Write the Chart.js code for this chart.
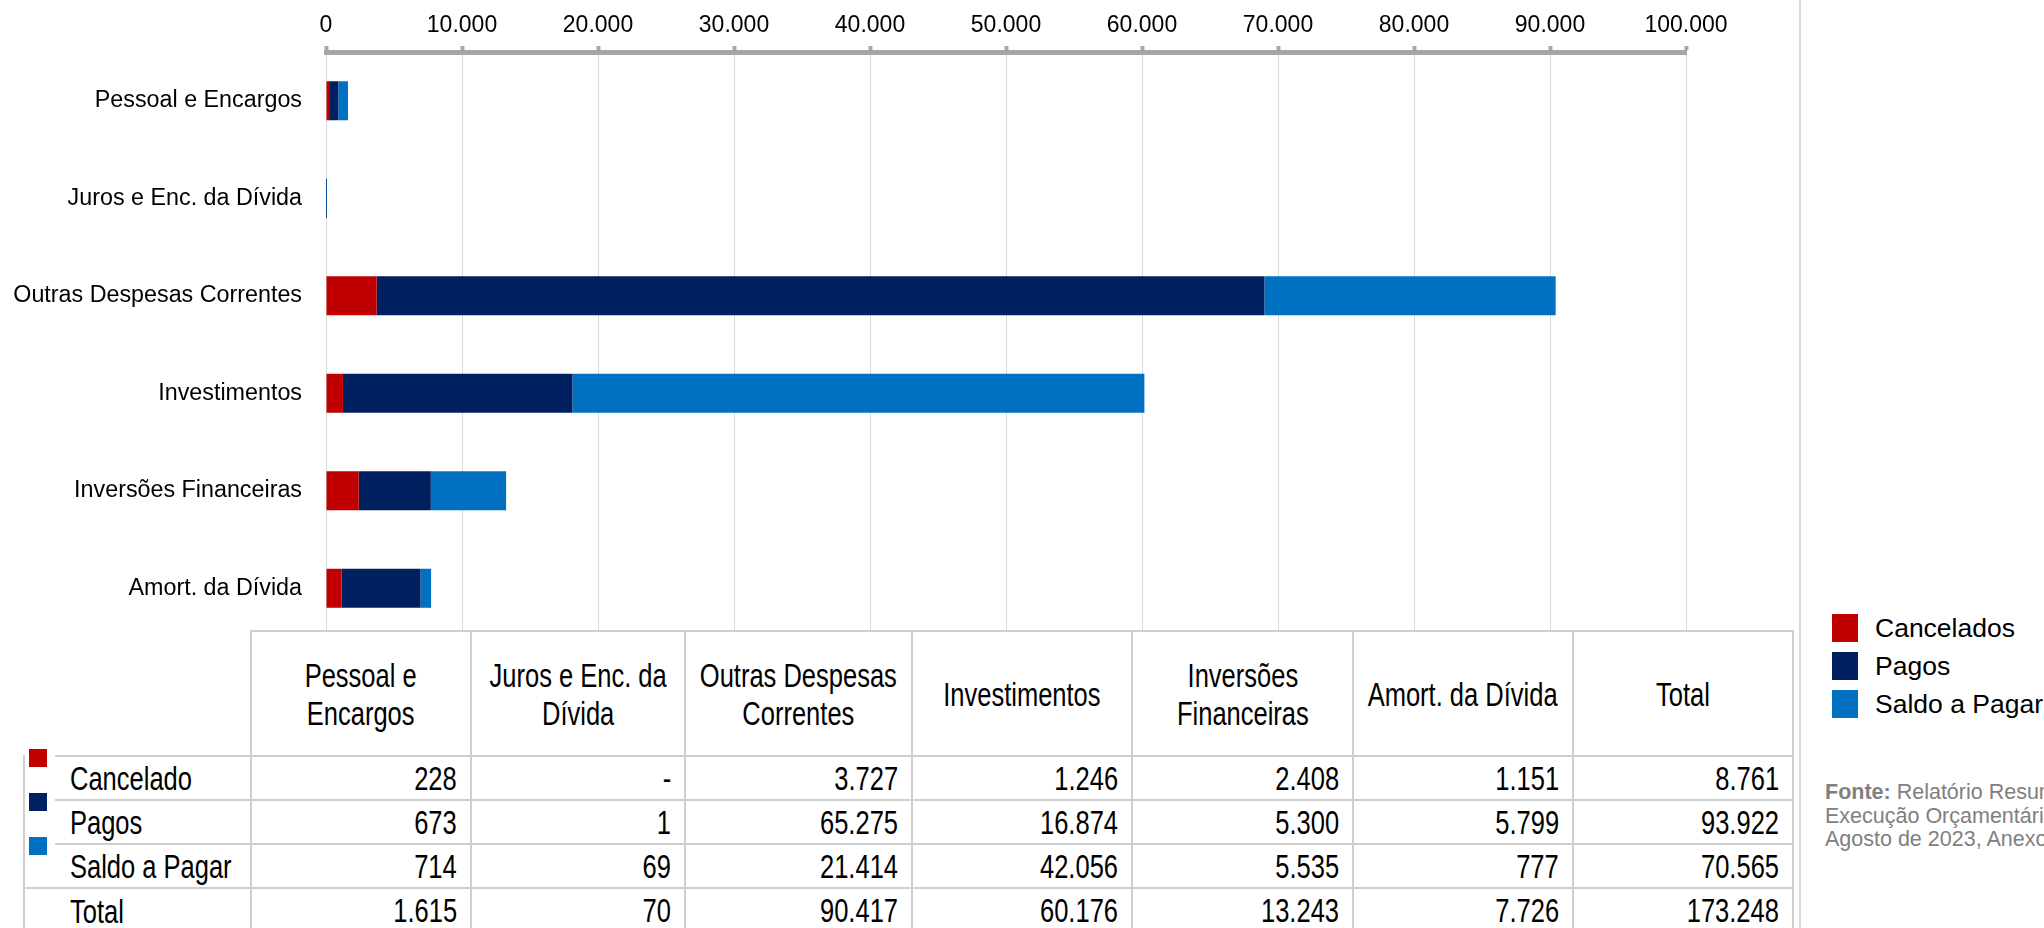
<!DOCTYPE html>
<html>
<head>
<meta charset="utf-8">
<script src="https://cdn.jsdelivr.net/npm/chart.js@4.4.0/dist/chart.umd.min.js"></script>
<style>
  html, body { margin: 0; padding: 0; background: #fff; width: 2044px; height: 928px; overflow: hidden; position: relative; }
  #wrap { position: absolute; left: 0; top: 0; width: 1799px; height: 675px; }
  #sep { position: absolute; left: 1799px; top: 0; width: 2px; height: 928px; background: #d9d9d9; }
  .cell { position: absolute; box-sizing: border-box; font-family: "Liberation Sans", Arial, sans-serif;
          font-size: 34px; color: #000; white-space: pre; display: flex; align-items: center; background: #fff; }
  .cell span { display: inline-block; transform: scaleX(0.75); }
  .hline { position: absolute; height: 2px; background: #cfcfcf; }
  .sq { position: absolute; width: 18px; height: 18px; }
  #legend { position: absolute; left: 1832px; top: 609px; font-family: "Liberation Sans", Arial, sans-serif; font-size: 26.5px; white-space: nowrap; }
  #legend div { position: relative; height: 38px; line-height: 38px; padding-left: 43px; }
  #legend span { position: absolute; left: 0; top: 5px; width: 26px; height: 28px; }
  #fonte { position: absolute; left: 1825px; top: 781px; width: 219px; overflow: hidden; white-space: nowrap;
           font-family: "Liberation Sans", Arial, sans-serif; font-size: 21.5px; line-height: 23.5px; color: #808080; }
</style>
</head>
<body>
<div id="wrap"><canvas id="chart" width="1799" height="675"></canvas></div>
<div id="sep"></div>
<div id="table"></div>
<div id="legend"></div>
<div id="fonte"><div><b>Fonte:</b> Relatório Resumido da</div><div>Execução Orçamentária -</div><div>Agosto de 2023, Anexo 7</div></div>
<script>
// valores em R$ milhões
const categorias = ["Pessoal e Encargos", "Juros e Enc. da Dívida", "Outras Despesas Correntes",
                    "Investimentos", "Inversões Financeiras", "Amort. da Dívida"];
const cabecalhos = ["Pessoal e\nEncargos", "Juros e Enc. da\nDívida", "Outras Despesas\nCorrentes",
                    "Investimentos", "Inversões\nFinanceiras", "Amort. da Dívida", "Total"];
const cancelados = [228, 0, 3727, 1246, 2408, 1151];
const pagos = [673, 1, 65275, 16874, 5300, 5799];
const saldoAPagar = [714, 69, 21414, 42056, 5535, 777];
const totalCategoria = [1615, 70, 90417, 60176, 13243, 7726];
const totalSituacao = [8761, 93922, 70565, 173248];
const linhasTabela = ["Cancelado", "Pagos", "Saldo a Pagar", "Total"];
const legendas = ["Cancelados", "Pagos", "Saldo a Pagar"];
const cores = ["#C00000", "#002060", "#0070C0"];

function fmt(n) {
        if (n === 0) return "-";
        return String(n).replace(/\B(?=(\d{3})+(?!\d))/g, ".");
}

const data = {
        labels: categorias,
        datasets: [
                { label: legendas[0], data: cancelados, backgroundColor: cores[0] },
                { label: legendas[1], data: pagos, backgroundColor: cores[1] },
                { label: legendas[2], data: saldoAPagar, backgroundColor: cores[2] }
        ]
};

const config = {
        type: 'bar',
        data: data,
        options: {
                indexAxis: 'y',
                responsive: false,
                maintainAspectRatio: false,
                animation: false,
                barPercentage: 0.4,
                categoryPercentage: 1.0,
                layout: { padding: { left: 0, right: 113, top: 0, bottom: 0 } },
                plugins: { legend: { display: false }, tooltip: { enabled: false } },
                scales: {
                        x: {
                                position: 'top', stacked: true, min: 0, max: 100000,
                                ticks: { stepSize: 10000, callback: v => v === 0 ? "0" : fmt(v),
                                         font: { family: "Liberation Sans", size: 23 }, color: "#000", padding: 7 },
                                grid: { color: "#d9d9d9", lineWidth: 1, drawTicks: true, tickLength: 6, tickColor: "#a6a6a6", tickWidth: 4 },
                                border: { display: true, color: "#a6a6a6", width: 5 },
                                afterFit: s => { s.height = 52; }
                        },
                        y: {
                                stacked: true,
                                ticks: { font: { family: "Liberation Sans", size: 23.3 }, color: "#000", padding: 24 },
                                grid: { display: false, drawTicks: false },
                                border: { display: false },
                                afterFit: s => { s.width = 326; }
                        }
                }
        }
};

new Chart(document.getElementById("chart").getContext("2d"), config);

// tabela
const colX = [23, 250, 470, 684, 911, 1131, 1352, 1572, 1792];
const rowY = [630, 755, 799, 843, 887, 932];
const tabela = document.getElementById("table");
const borda = "2px solid #cfcfcf";

function celula(x0, y0, x1, y1, txt, css, origem) {
        const d = document.createElement("div");
        d.className = "cell";
        d.style.left = x0 + "px"; d.style.top = y0 + "px";
        d.style.width = (x1 - x0 + 2) + "px"; d.style.height = (y1 - y0 + 2) + "px";
        Object.assign(d.style, css);
        const s = document.createElement("span");
        s.style.transformOrigin = origem;
        s.textContent = txt;
        d.appendChild(s);
        tabela.appendChild(d);
}

// cabeçalho
for (let c = 0; c < cabecalhos.length; c++) {
        celula(colX[c + 1], rowY[0], colX[c + 2], rowY[1], cabecalhos[c],
               { border: borda, justifyContent: "center", textAlign: "center", lineHeight: "38px" }, "center center");
}
const linhas = [cancelados, pagos, saldoAPagar, totalCategoria];
for (let r = 0; r < linhasTabela.length; r++) {
        const y0 = rowY[r + 1], y1 = rowY[r + 2];
        celula(colX[0], y0, colX[1], y1, linhasTabela[r],
               { borderLeft: borda, borderTop: r === 3 ? borda : "none", paddingLeft: "45px" }, "left center");
        for (let c = 0; c < 7; c++) {
                const v = c < 6 ? linhas[r][c] : totalSituacao[r];
                celula(colX[c + 1], y0, colX[c + 2], y1, fmt(v),
                       { border: borda, justifyContent: "flex-end", paddingRight: "13px" }, "right center");
        }
        if (r < 3) {
                const l = document.createElement("div");
                l.className = "hline";
                l.style.left = "55px"; l.style.top = y0 + "px"; l.style.width = (colX[1] - 55) + "px";
                tabela.appendChild(l);
                const s = document.createElement("div");
                s.className = "sq";
                s.style.left = "29px"; s.style.top = (y0 - 6) + "px"; s.style.background = cores[r];
                tabela.appendChild(s);
        }
}

// legenda
const leg = document.getElementById("legend");
legendas.forEach((t, i) => {
        const d = document.createElement("div");
        d.innerHTML = '<span style="background:' + cores[i] + '"></span>' + t;
        leg.appendChild(d);
});
</script>
</body>
</html>
